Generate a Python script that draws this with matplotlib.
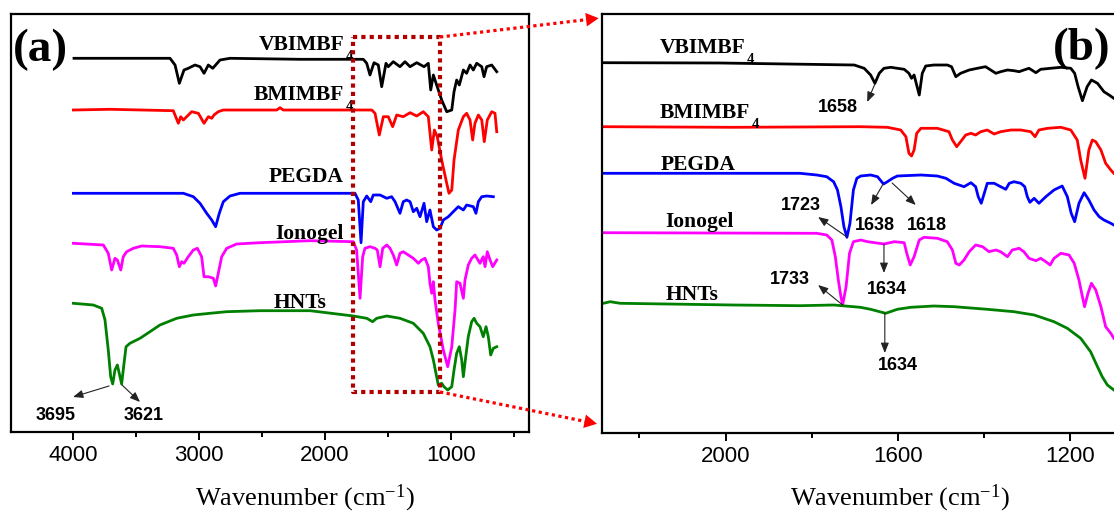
import matplotlib
matplotlib.use('Agg')
import matplotlib.pyplot as plt
from matplotlib.ticker import MultipleLocator, NullLocator
from matplotlib.lines import Line2D
from matplotlib.patches import FancyArrowPatch
import numpy as np

plt.rcParams['font.family'] = ['Liberation Sans', 'DejaVu Sans']
plt.rcParams['mathtext.fontset'] = 'custom'
plt.rcParams['mathtext.rm'] = 'Liberation Serif'
plt.rcParams['mathtext.bf'] = 'Liberation Serif:bold'
plt.rcParams['mathtext.it'] = 'Liberation Serif:italic'

# ---------------- data : panel (a) full range ----------------
a_vbim_wn = [3992, 3230, 3190, 3156, 3119, 3085, 3032, 2992, 2960, 2926, 2891, 2833, 2754,
             2198, 1696, 1669, 1643, 1611, 1577, 1550, 1516, 1498, 1458, 1405, 1365, 1325,
             1272, 1214, 1180, 1161, 1140, 1114, 1074, 1034, 994, 976, 955, 934, 902, 876,
             849, 823, 796, 756, 738, 717, 677, 637]
a_vbim_t = [373.7, 373.7, 367, 348.7, 362, 363.7, 367, 365.3, 358.7, 367, 363.7, 372, 373.7,
            372.7, 372.7, 368.7, 357, 369.3, 367, 345.3, 368.7, 365.3, 370.3, 365.3, 370.3, 365.3,
            369.3, 365.3, 368.7, 342, 357, 347, 332, 320.3, 322, 340.3, 352, 347, 362, 358.7,
            367, 362, 368.7, 365.3, 355.3, 365.3, 367, 360.3]

a_bmim_wn = [3997, 3706, 3204, 3164, 3145, 3124, 3098, 3058, 3005, 2960, 2926, 2899, 2881, 2847,
             2807, 2383, 2357, 2331, 2198, 1629, 1603, 1569, 1537, 1498, 1463, 1431, 1379, 1325,
             1272, 1220, 1180, 1153, 1132, 1109, 1074, 1034, 1016, 994, 976, 942, 902, 876, 849,
             828, 810, 783, 756, 736, 712, 677, 651, 637]
a_bmim_t = [322, 322.7, 321.3, 308.7, 315.3, 312, 315.3, 320.3, 318.7, 308.7, 315.3, 313.7, 317, 320.3,
            322, 322, 324.3, 322, 322, 322, 318.7, 297, 315.3, 315.3, 305.3, 317, 315.3, 319.3,
            316, 320.3, 315.3, 282, 302, 295.3, 272, 248.7, 238.7, 242, 272, 302, 315.3, 318.7, 312,
            292, 308.7, 317, 312, 290.3, 312, 320.3, 318.7, 300.3]

a_pegda_wn = [3997, 3124, 3045, 2992, 2939, 2899, 2868, 2839, 2807, 2754, 2675, 2198, 1762, 1736,
              1714, 1696, 1669, 1637, 1617, 1563, 1510, 1471, 1444, 1405, 1379, 1352, 1325, 1299,
              1272, 1246, 1214, 1193, 1167, 1140, 1114, 1087, 1061, 1021, 982, 942, 902, 876, 823,
              802, 783, 756, 717, 664]
a_pegda_t = [238.7, 238.7, 235.3, 228.7, 218.7, 212, 205.3, 218.7, 230.3, 236, 238.7, 238.7, 238.7, 232,
             189.3, 230.3, 236, 230.3, 237, 237, 233.7, 235.3, 230.3, 218.7, 230.3, 232, 230.3, 220.3,
             223.7, 215.3, 228.7, 210.3, 222, 205.3, 202, 203.7, 212, 215.3, 220.3, 225.3, 222, 227, 225.3,
             218.7, 230.3, 235.3, 236, 235.3]

a_iono_wn = [3997, 3759, 3720, 3693, 3667, 3648, 3621, 3601, 3574, 3521, 3455, 3310, 3204, 3177,
             3156, 3137, 3119, 3085, 3045, 3013, 2979, 2960, 2926, 2886, 2868, 2847, 2820, 2780,
             2701, 2516, 2119, 1775, 1749, 1722, 1701, 1683, 1643, 1603, 1585, 1563, 1542, 1510,
             1484, 1458, 1431, 1405, 1379, 1339, 1299, 1259, 1233, 1206, 1180, 1167, 1153, 1140,
             1127, 1101, 1061, 1026, 994, 968, 955, 929, 902, 889, 863, 836, 810, 770, 744, 730,
             712, 690, 669, 637]
a_iono_t = [188.7, 187, 178.7, 162, 173.7, 172, 162, 175.3, 180.3, 183.7, 186, 185.3, 183.7, 177,
            165.3, 170.3, 168.7, 175.3, 182, 183.7, 175.3, 155.3, 155.3, 153.7, 146, 158.7, 175.3, 183.7,
            188, 189.3, 191.3, 190.3, 182, 133.7, 175.3, 183.7, 185.3, 183.7, 182, 165.3, 183.7, 187,
            183.7, 177, 167, 178.7, 180.3, 177, 173.7, 168.7, 172, 173.7, 165.3, 148.7, 138.7, 150.3,
            132, 108.7, 82, 65.3, 85.3, 122, 150.3, 148.7, 133.7, 152, 167, 173.7, 177, 168.7, 175.3, 165.3,
            180.3, 172, 165.3, 172]

a_hnt_wn = [3997, 3839, 3772, 3746, 3720, 3701, 3685, 3667, 3648, 3633, 3614, 3595, 3579, 3548,
            3468, 3389, 3310, 3177, 3045, 2913, 2780, 2516, 2119, 1775, 1669, 1622, 1590, 1510,
            1405, 1299, 1220, 1167, 1140, 1114, 1101, 1074, 1056, 1026, 994, 976, 955, 934, 915,
            902, 883, 863, 836, 817, 796, 770, 744, 722, 704, 685, 664, 637]
a_hnt_t = [128.7, 127, 123.7, 112, 82, 55.3, 48, 62, 67, 58.7, 48, 68.7, 85.3, 88.7,
           93.7, 100.3, 107, 113.7, 117, 118.7, 120.3, 121.3, 121.3, 116, 113.7, 110.3, 113.7, 116,
           113.7, 108.7, 98.7, 85.3, 72, 55.3, 47, 48.7, 45.3, 42, 45.3, 62, 78.7, 85.3, 72,
           55.3, 75.3, 95.3, 110.3, 113.7, 108.7, 105.3, 95.3, 105.3, 95.3, 77, 83.7, 85.3]

# ---------------- data : panel (b) zoomed range ----------------
b_vbim_wn = [2284, 2013, 1701, 1678, 1663, 1653, 1643, 1632, 1616, 1601, 1585, 1574, 1568, 1562,
             1550, 1543, 1535, 1516, 1485, 1475, 1465, 1454, 1434, 1415, 1396, 1384, 1372, 1361,
             1345, 1330, 1318, 1307, 1295, 1279, 1268, 1245, 1221, 1198, 1189, 1181, 1171, 1160,
             1150, 1136, 1121, 1109, 1098]
b_vbim_t = [370.3, 370, 368, 364.7, 358, 349.7, 359.7, 364.7, 365.7, 364.7, 363.7, 359.7, 354.7, 358,
            338, 359.7, 367, 368, 368, 366.3, 356.3, 359.7, 363, 364.7, 366.3, 363, 359.7, 361.3,
            363, 362.3, 361.3, 363, 364.7, 360.3, 363.7, 364.7, 365.7, 364.7, 359.7, 346.3, 332.3, 346.3,
            353, 349.7, 341.3, 338, 334.7]

b_bmim_wn = [2284, 1982, 1687, 1624, 1593, 1581, 1574, 1568, 1562, 1556, 1546, 1508, 1481, 1473,
             1463, 1454, 1442, 1430, 1419, 1407, 1392, 1376, 1361, 1337, 1314, 1291, 1281, 1272,
             1252, 1221, 1198, 1183, 1175, 1165, 1156, 1148, 1140, 1128, 1117, 1105, 1098]
b_bmim_t = [306.3, 305.7, 306.3, 305.7, 303, 296.3, 279.7, 277, 283, 299.7, 304.7, 304.7, 301.3, 293,
            286.3, 291.3, 298, 299.7, 298, 301.3, 303, 299, 301.3, 303, 303, 301.3, 296.3, 303,
            304.7, 305.7, 303, 293, 273, 254.7, 283, 293, 291.3, 283, 269.7, 263, 259.7]

b_pegda_wn = [2284, 1827, 1788, 1765, 1749, 1740, 1732, 1725, 1718, 1711, 1703, 1695, 1686, 1663,
              1647, 1633, 1624, 1612, 1601, 1546, 1508, 1488, 1469, 1446, 1430, 1419, 1413, 1406,
              1399, 1392, 1376, 1361, 1349, 1341, 1330, 1314, 1305, 1299, 1293, 1283, 1272, 1256,
              1237, 1218, 1206, 1197, 1189, 1179, 1167, 1156, 1144, 1132, 1121, 1105, 1098]
b_pegda_t = [259.7, 259.7, 258, 256.3, 251.3, 243, 226.3, 206.3, 195.7, 209.7, 243, 254.7, 257, 258,
             256.3, 249, 251.3, 254.7, 257, 258, 257, 254.7, 249.7, 246.3, 250.3, 246.3, 236.3, 229.7,
             239.7, 249.7, 249.7, 246.3, 243.7, 249.7, 251.3, 249.7, 246.3, 236.3, 230.7, 234.7, 229.7, 236.3,
             243, 247, 236.3, 219.7, 211.3, 229.7, 240.3, 233, 223, 216.3, 213, 209.7, 208]

b_iono_wn = [2284, 1788, 1765, 1753, 1745, 1738, 1732, 1728, 1720, 1712, 1703, 1686, 1670, 1632,
             1608, 1585, 1579, 1571, 1562, 1550, 1539, 1508, 1485, 1473, 1465, 1457, 1446, 1434,
             1419, 1403, 1388, 1372, 1361, 1345, 1334, 1318, 1307, 1295, 1279, 1268, 1256, 1246,
             1237, 1221, 1202, 1190, 1179, 1171, 1166, 1158, 1150, 1140, 1128, 1117, 1105, 1098]
b_iono_t = [200.3, 199.7, 198, 193, 176.3, 153, 136.3, 128, 146.3, 179.7, 191.3, 193, 191.3, 189,
            191.3, 190.3, 179.7, 168, 176.3, 193, 195.7, 194.7, 191.3, 183, 169.7, 168, 173, 181.3,
            188, 186.3, 181.3, 183, 181.3, 176.3, 183, 184.7, 181.3, 174.7, 172.3, 174.7, 171.3, 168,
            174.7, 179.7, 178, 169.7, 153, 136.3, 126.3, 139.7, 149.7, 143, 126.3, 106.3, 99.7, 94.7]

b_hnt_wn = [2284, 2268, 2245, 2136, 1982, 1827, 1749, 1687, 1663, 1628, 1601, 1570, 1516, 1469,
            1392, 1330, 1283, 1237, 1206, 1175, 1152, 1136, 1125, 1113, 1098]
b_hnt_t = [129.7, 131.3, 129.7, 129, 128, 127.3, 128, 125.7, 123.7, 119.7, 123.7, 125.7, 127, 126.3,
           123.7, 121.3, 118, 111.3, 104.7, 94.7, 81.3, 66.3, 56.3, 48, 43]

series_names = ["VBIMBF", "BMIMBF", "PEGDA", "Ionogel", "HNTs"]
series_subs = ["4", "4", "", "", ""]
series_colors = ['#000000', '#ff0000', '#0000ff', '#ff00ff', '#008000']

a_series = [(a_vbim_wn, a_vbim_t), (a_bmim_wn, a_bmim_t), (a_pegda_wn, a_pegda_t),
            (a_iono_wn, a_iono_t), (a_hnt_wn, a_hnt_t)]
b_series = [(b_vbim_wn, b_vbim_t), (b_bmim_wn, b_bmim_t), (b_pegda_wn, b_pegda_t),
            (b_iono_wn, b_iono_t), (b_hnt_wn, b_hnt_t)]

# label anchor points (wavenumber, transmittance)
a_label_pos = [(1849, 382), (1849, 332), (1849, 250), (1849, 193), (1984, 124)]
b_label_pos = [(2154, 380), (2154, 315), (2151, 263), (2140, 206), (2140, 133)]

# peak annotations: (text, text_xy, arrow_tail, arrow_head)
a_peaks = [("3695", (4135, 17), (3714, 46), (4000, 35)),
           ("3621", (3440, 17), (3611, 47), (3468, 30))]
b_peaks = [("1658", (1738, 325), (1653, 349), (1671, 331)),
           ("1723", (1825, 227), (1718, 196), (1785, 216)),
           ("1638", (1653, 208), (1634, 249), (1662, 228)),
           ("1618", (1532, 208), (1613, 250), (1558, 228)),
           ("1634", (1625, 144), (1632, 189), (1632, 160)),
           ("1634", (1600, 67), (1630, 120), (1630, 80)),
           ("1733", (1850, 153), (1728, 128), (1785, 148))]

ZOOM_HI, ZOOM_LO = 1778, 1087      # wavenumber span of the dotted zoom box
BOX_TOP, BOX_BOT = 395, 40

# ---------------- figure ----------------
W, H = 1114, 516
fig = plt.figure(figsize=(W / 100, H / 100), dpi=100)


def rect(l, t, r, b):
    return [l / W, 1 - b / H, (r - l) / W, (b - t) / H]


ax_a = fig.add_axes(rect(11, 14, 529, 432))
ax_b = fig.add_axes(rect(602, 14, 1158.6, 433))

ax_a.set_xlim(4492, 381)
ax_a.set_ylim(0, 418)
ax_b.set_xlim(2287, 994)
ax_b.set_ylim(0, 419)

ax_a.xaxis.set_major_locator(MultipleLocator(1000))
ax_a.xaxis.set_minor_locator(MultipleLocator(500))
ax_b.xaxis.set_major_locator(MultipleLocator(400))
ax_b.xaxis.set_minor_locator(MultipleLocator(200))

serif = 'Liberation Serif'
for ax in (ax_a, ax_b):
    ax.yaxis.set_major_locator(NullLocator())
    for s in ax.spines.values():
        s.set_linewidth(1.6)
    ax.tick_params(axis='x', which='major', direction='out', length=5.5, width=1.4,
                   labelsize=16, pad=4)
    ax.tick_params(axis='x', which='minor', direction='out', length=3.5, width=1.4)
    ax.set_xlabel("Wavenumber (cm$^{-1}$)", fontfamily=serif, fontsize=19)
    ax.xaxis.label.set_va('baseline')

ax_b.spines['right'].set_visible(False)
ax_a.xaxis.set_label_coords(0.568, -0.1746)
ax_b.xaxis.set_label_coords(0.535, -0.172)

for (wn, t), c in zip(a_series, series_colors):
    ax_a.plot(wn, t, color=c, lw=2.0, solid_joinstyle='round')
for (wn, t), c in zip(b_series, series_colors):
    ax_b.plot(wn, t, color=c, lw=2.0, solid_joinstyle='round')

label_kw = dict(va='baseline', fontfamily=serif, fontweight='bold', fontsize=15.5)
sub_kw = dict(textcoords='offset points', ha='left', va='baseline', fontfamily=serif,
              fontweight='bold', fontsize=10.5)
for name, sub, (x, y) in zip(series_names, series_subs, a_label_pos):
    t = ax_a.text(x, y, name, ha='right', **label_kw)
    if sub:
        ax_a.annotate(sub, xy=(1, 0), xycoords=t, xytext=(1.5, -3.5), **sub_kw)
for name, sub, (x, y) in zip(series_names, series_subs, b_label_pos):
    t = ax_b.text(x, y, name, ha='left', **label_kw)
    if sub:
        ax_b.annotate(sub, xy=(1, 0), xycoords=t, xytext=(1.5, -3.5), **sub_kw)

arrow_kw = dict(arrowstyle='-|>,head_length=0.5,head_width=0.2', mutation_scale=12,
                lw=0.8, color='#222222', shrinkA=0, shrinkB=0)
for ax, peaks in ((ax_a, a_peaks), (ax_b, b_peaks)):
    for txt, pos, tail, head in peaks:
        ax.annotate('', xy=head, xytext=tail, arrowprops=arrow_kw)
        ax.text(pos[0], pos[1], txt, ha='center', va='center', fontsize=13,
                fontweight='bold', fontfamily='Liberation Sans')

ax_a.text(0.004, 0.888, "(a)", transform=ax_a.transAxes, ha='left', va='baseline',
          fontfamily=serif, fontweight='bold', fontsize=34)
ax_b.text(0.81, 0.89, "(b)", transform=ax_b.transAxes, ha='left', va='baseline',
          fontfamily=serif, fontweight='bold', fontsize=34, clip_on=False)

# dotted zoom box in panel (a)
ax_a.plot([ZOOM_HI, ZOOM_LO, ZOOM_LO, ZOOM_HI, ZOOM_HI],
          [BOX_TOP, BOX_TOP, BOX_BOT, BOX_BOT, BOX_TOP],
          color='#b00000', lw=3, linestyle=(0, (1, 1)), zorder=6)

# dotted connectors with arrow heads to panel (b)
inv = fig.transFigure.inverted()
for start, end in (((ZOOM_LO, BOX_TOP), (-0.006, 0.990)),
                   ((ZOOM_LO, BOX_BOT), (-0.009, 0.022))):
    p0 = inv.transform(ax_a.transData.transform(start))
    p1 = inv.transform(ax_b.transAxes.transform(end))
    d = (p1 - p0) * np.array([W, H])
    L = np.hypot(*d)
    pm = p1 - (p1 - p0) * (12 / L)
    fig.add_artist(Line2D([p0[0], pm[0]], [p0[1], pm[1]], transform=fig.transFigure,
                          color='#ff0000', lw=2.3, linestyle=(0, (1, 1.1))))
    fig.add_artist(FancyArrowPatch(pm, p1, transform=fig.transFigure,
                                   arrowstyle='-|>,head_length=0.65,head_width=0.35',
                                   mutation_scale=14, color='#ff0000', lw=0,
                                   shrinkA=0, shrinkB=0))

fig.savefig('out.png', dpi=100)
